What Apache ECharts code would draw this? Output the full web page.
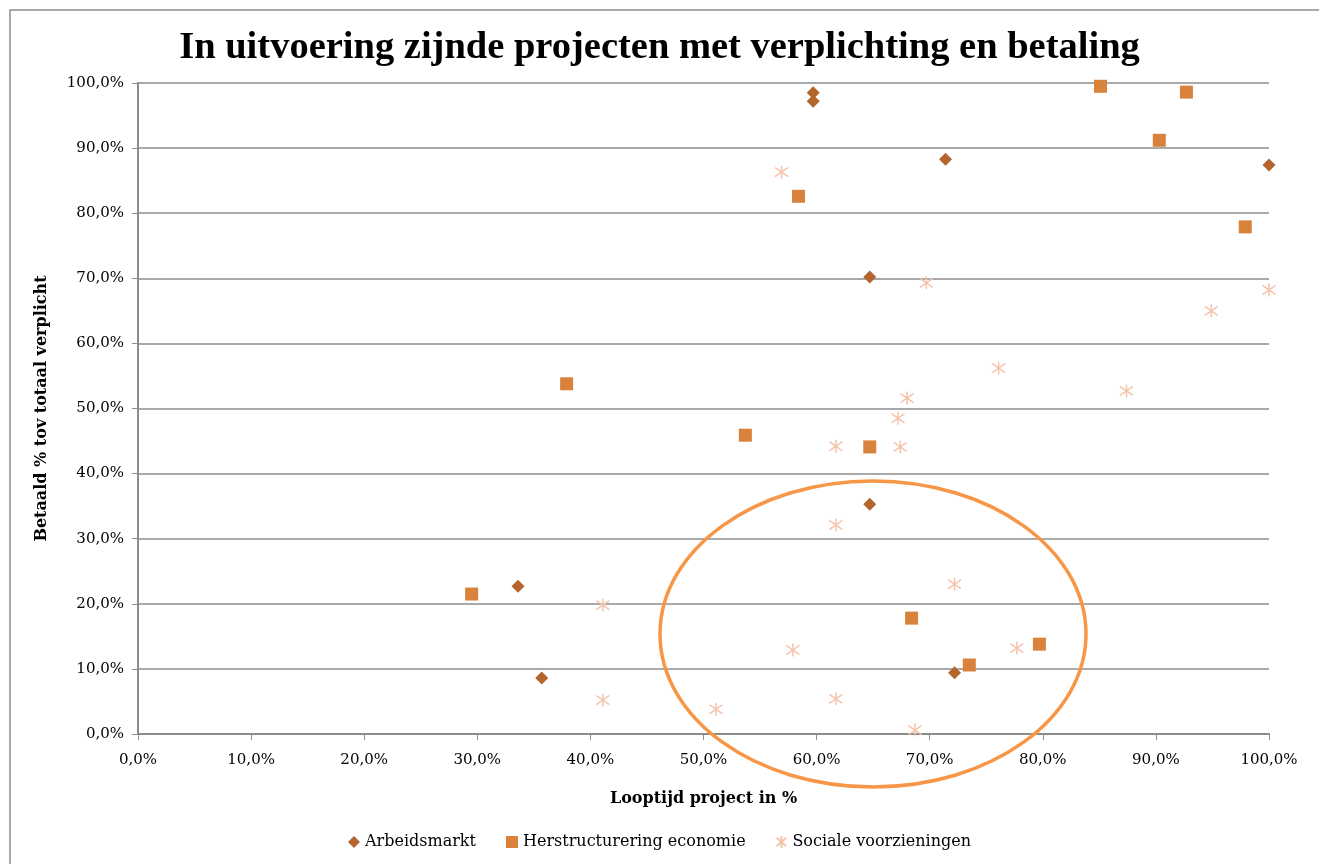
<!DOCTYPE html>
<html>
<head>
<meta charset="utf-8">
<script src="https://cdn.jsdelivr.net/npm/echarts@6/dist/echarts.min.js"></script>
<style>
  html, body { margin: 0; padding: 0; background: #fff; }
  #chart { width: 1319px; height: 864px; }
</style>
</head>
<body>
<div id="chart"></div>
<script>
// Arbeidsmarkt: [looptijd %, betaald %]
const arbeidsmarkt = [
  [59.7, 98.5], [59.7, 97.2], [71.4, 88.3], [100, 87.4], [64.7, 70.2],
  [64.7, 35.3], [33.6, 22.7], [35.7, 8.6], [72.2, 9.4]
];
// Herstructurering economie
const herstructurering = [
  [85.1, 99.5], [92.7, 98.6], [90.3, 91.2], [58.4, 82.6], [97.9, 77.9],
  [37.9, 53.8], [53.7, 45.9], [64.7, 44.1], [29.5, 21.5], [68.4, 17.8],
  [73.5, 10.6], [79.7, 13.8]
];
// Sociale voorzieningen
const sociale = [
  [56.9, 86.3], [69.7, 69.3], [100, 68.2], [94.9, 65.0], [76.1, 56.2],
  [87.4, 52.7], [68.0, 51.6], [67.2, 48.5], [67.4, 44.1], [61.7, 44.2],
  [61.7, 32.1], [72.2, 23.0], [41.1, 19.8], [57.9, 12.9], [77.7, 13.2],
  [41.1, 5.2], [51.1, 3.8], [61.7, 5.4], [68.7, 0.6]
];

const font = 'DejaVu Serif';
const fmt = (v) => v.toFixed(1).replace('.', ',') + '%';
// asterisk: vertical stroke plus an X
const asterisk = 'path://M5,0L5,10M1,1.5L9,8.5M1,8.5L9,1.5';

const chart = echarts.init(document.getElementById('chart'));
chart.setOption({
  animation: false,
  textStyle: { fontFamily: font },
  title: {
    text: 'In uitvoering zijnde projecten met verplichting en betaling',
    left: 'center',
    top: 24,
    textStyle: { fontFamily: 'Liberation Serif', fontSize: 38.5, fontWeight: 'bold', color: '#000' }
  },
  grid: { left: 138, right: 50, top: 83, bottom: 130 },
  legend: {
    bottom: 9,
    left: 'center',
    itemWidth: 12,
    itemHeight: 12,
    itemGap: 30,
    textStyle: { fontFamily: font, fontSize: 16, color: '#000' },
    data: [
      { name: 'Arbeidsmarkt', icon: 'diamond' },
      { name: 'Herstructurering economie', icon: 'rect' },
      { name: 'Sociale voorzieningen', icon: asterisk }
    ]
  },
  xAxis: {
    type: 'value',
    min: 0,
    max: 100,
    interval: 10,
    name: 'Looptijd project in %',
    nameLocation: 'middle',
    nameGap: 57,
    nameTextStyle: { fontFamily: font, fontSize: 16, fontWeight: 'bold', color: '#000' },
    axisLine: { lineStyle: { color: '#8c8c8c', width: 2 } },
    axisTick: { show: true, length: 6, lineStyle: { color: '#8c8c8c' } },
    axisLabel: { formatter: fmt, fontSize: 15, color: '#000', margin: 19 },
    splitLine: { show: false }
  },
  yAxis: {
    type: 'value',
    min: 0,
    max: 100,
    interval: 10,
    name: 'Betaald % tov totaal verplicht',
    nameLocation: 'middle',
    nameGap: 88,
    nameRotate: 90,
    nameTextStyle: { fontFamily: font, fontSize: 16, fontWeight: 'bold', color: '#000' },
    axisLine: { show: true, lineStyle: { color: '#8c8c8c', width: 2 } },
    axisTick: { show: true, length: 6, lineStyle: { color: '#8c8c8c' } },
    axisLabel: { formatter: fmt, fontSize: 15, color: '#000', margin: 14 },
    splitLine: { show: true, lineStyle: { color: '#8c8c8c', width: 1.5 } }
  },
  series: [
    {
      name: 'Arbeidsmarkt',
      type: 'scatter',
      symbol: 'diamond',
      symbolSize: 13,
      itemStyle: { color: '#B3652D', opacity: 1 },
      data: arbeidsmarkt
    },
    {
      name: 'Herstructurering economie',
      type: 'scatter',
      symbol: 'rect',
      symbolSize: 13,
      itemStyle: { color: '#D9823C', opacity: 1 },
      data: herstructurering
    },
    {
      name: 'Sociale voorzieningen',
      type: 'scatter',
      symbol: asterisk,
      symbolSize: 13,
      itemStyle: { color: 'rgba(0,0,0,0)', borderColor: '#F5C4AC', borderWidth: 1.5, opacity: 1 },
      data: sociale
    }
  ],
  graphic: [
    {
      type: 'rect',
      shape: { x: 10, y: 10, width: 1340, height: 900 },
      style: { fill: 'none', stroke: '#8c8c8c', lineWidth: 1.5 },
      silent: true
    },
    {
      type: 'ellipse',
      shape: { cx: 873, cy: 634, rx: 213, ry: 153 },
      style: { fill: 'none', stroke: '#F79646', lineWidth: 3.5 },
      z: 10,
      silent: true
    }
  ]
});
</script>
</body>
</html>
